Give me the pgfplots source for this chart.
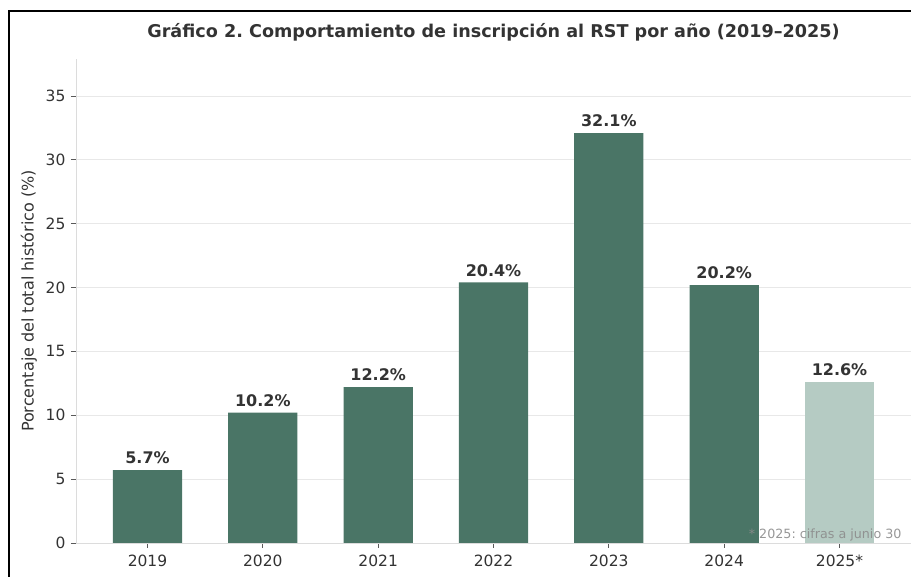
\documentclass[border=0pt]{standalone}
\usepackage{pgfplots}
\pgfplotsset{compat=1.18}
\usepackage{fontspec}
\setmainfont{DejaVu Sans}
\frenchspacing

\definecolor{barDark}{HTML}{4A7566}
\definecolor{barLight}{HTML}{B5CBC3}
\definecolor{textDark}{HTML}{333333}
\definecolor{gridGray}{HTML}{E8E8E8}
\definecolor{spineGray}{HTML}{DCDCDC}
\definecolor{noteGray}{HTML}{8C8C8C}

\begin{document}
\begin{tikzpicture}[x=1pt,y=1pt]
\useasboundingbox (0,0) rectangle (911,577);
\draw[line width=2pt, black] (9,0) -- (9,566) -- (912,566);

\begin{axis}[
    at={(76pt,34pt)}, anchor=south west,
    scale only axis,
    width=835pt, height=484pt,
    xmin=-0.62, xmax=6.62,
    ymin=0, ymax=37.9,
    axis lines=left,
    axis line style={-, spineGray, line width=0.8pt},
    xtick={0,1,2,3,4,5,6},
    xticklabels={2019,2020,2021,2022,2023,2024,2025*},
    ytick={0,5,10,15,20,25,30,35},
    tick align=outside,
    major tick length=5pt,
    tick style={black!65, line width=0.8pt},
    ymajorgrids,
    grid style={gridGray, line width=0.8pt},
    ticklabel style={font=\fontsize{15.5}{18}\selectfont, text=textDark},
    xticklabel style={yshift=-3pt},
    yticklabel style={xshift=-2pt},
    /pgf/number format/assume math mode=true,
    ylabel={Porcentaje del total histórico (\%)},
    ylabel style={font=\fontsize{16}{19}\selectfont, text=textDark, yshift=2pt},
    title={\textbf{Gráfico 2. Comportamiento de inscripción al RST por año (2019–2025)}},
    title style={font=\fontsize{17.6}{21}\selectfont, text=textDark, at={(0.5,1)}, anchor=south, yshift=8pt},
    ybar, bar width=0.6, bar shift=0pt,
    nodes near coords={\pgfmathprintnumber[fixed,precision=1,fixed zerofill]{\pgfplotspointmeta}\%},
    every node near coord/.append style={font=\bfseries\fontsize{16}{19}\selectfont, text=textDark, inner sep=3pt, yshift=3pt},
]
\addplot[fill=barDark, draw=none] coordinates {
    (0,5.7) (1,10.2) (2,12.2) (3,20.4) (4,32.1) (5,20.2)
};
\addplot[fill=barLight, draw=none] coordinates {
    (6,12.6)
};
\end{axis}

\node[anchor=east, text=noteGray, opacity=0.9, font=\fontsize{12.7}{15}\selectfont] at (905,42) {* 2025: cifras a junio 30};
\end{tikzpicture}
\end{document}
